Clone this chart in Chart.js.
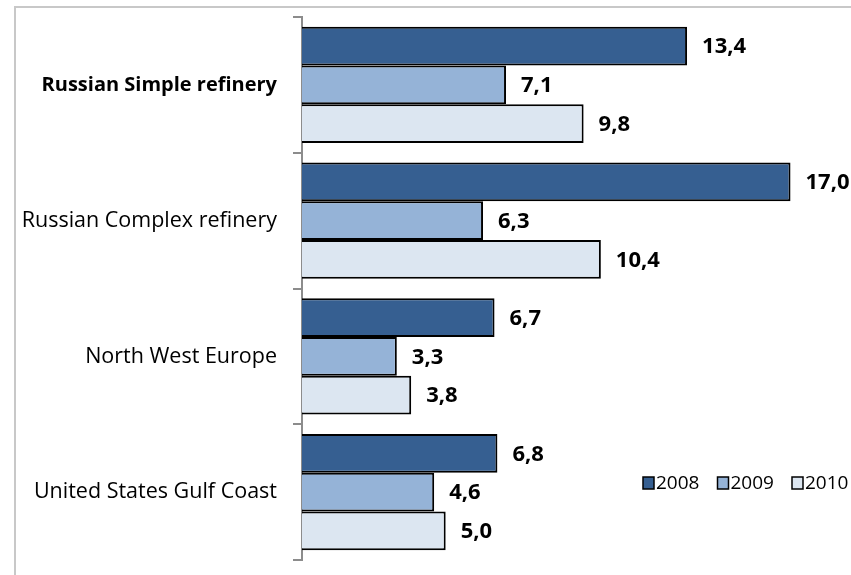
<!DOCTYPE html>
<html>
<head>
<meta charset="utf-8">
<script src="https://cdn.jsdelivr.net/npm/chart.js@4"></script>
<style>
  body { margin: 0; background: #fff; }
  #wrap { position: relative; width: 851px; height: 575px; }
  #marco { position: absolute; left: 14px; top: 6px; right: 0; bottom: 0;
           border-left: 2px solid #c8c8c8; border-top: 2px solid #c8c8c8; }
  canvas { position: absolute; left: 0; top: 0; }
</style>
</head>
<body>
<div id="wrap">
  <div id="marco"></div>
  <canvas id="myChart" width="851" height="575"></canvas>
</div>
<script>
const categorias = ["Russian Simple refinery", "Russian Complex refinery", "North West Europe", "United States Gulf Coast"];
const anios = ["2008", "2009", "2010"];
const valores2008 = [13.4, 17.0, 6.7, 6.8];
const valores2009 = [7.1, 6.3, 3.3, 4.6];
const valores2010 = [9.8, 10.4, 3.8, 5.0];
const colores = ["#365f91", "#95b3d7", "#dce6f1"];
const fuente = "'Open Sans', Lato, sans-serif";

//plugin que escribe el valor al final de cada barra
const etiquetasPlugin = {
  id: "etiquetas",
  afterDatasetsDraw(chart) {
    const ctx = chart.ctx;
    ctx.save();
    ctx.font = "bold 22px " + fuente;
    ctx.fillStyle = "#000";
    ctx.textBaseline = "middle";
    ctx.textAlign = "left";
    chart.data.datasets.forEach((ds, i) => {
      chart.getDatasetMeta(i).data.forEach((bar, j) => {
        ctx.fillText(ds.data[j].toFixed(1).replace(".", ","), bar.x + 15, bar.y + 1);
      });
    });
    ctx.restore();
  }
};

//plugin que dibuja la leyenda abajo a la derecha
const leyendaPlugin = {
  id: "leyenda",
  afterDraw(chart) {
    const ctx = chart.ctx;
    ctx.save();
    ctx.font = "19px " + fuente;
    ctx.textBaseline = "middle";
    let x = 643;
    const y = 483;
    chart.data.datasets.forEach((ds) => {
      ctx.fillStyle = ds.backgroundColor;
      ctx.fillRect(x, y - 6, 11, 12);
      ctx.strokeStyle = "#000";
      ctx.lineWidth = 1.5;
      ctx.strokeRect(x, y - 6, 11, 12);
      ctx.fillStyle = "#000";
      ctx.fillText(ds.label, x + 13, y + 1);
      x += 74.5;
    });
    ctx.restore();
  }
};

const datasets = [valores2008, valores2009, valores2010].map((valores, i) => ({
  label: anios[i],
  data: valores,
  backgroundColor: colores[i],
  borderColor: "#000",
  borderWidth: 2,
  borderSkipped: "left"
}));

const config = {
  type: "bar",
  data: { labels: categorias, datasets },
  options: {
    indexAxis: "y",
    responsive: false,
    animation: false,
    categoryPercentage: 0.855,
    barPercentage: 1,
    layout: { padding: { top: 17, bottom: 15, left: 0, right: 3 } },
    plugins: { legend: { display: false }, tooltip: { enabled: false } },
    scales: {
      x: { display: false, min: 0, max: 19 },
      y: {
        afterFit: (scale) => {
          scale.width = 302;
          scale.paddingTop = 0;
          scale.paddingBottom = 0;
        },
        border: { color: "#8c8c8c", width: 2 },
        grid: { drawOnChartArea: false, tickLength: 9, color: "#8c8c8c", lineWidth: 2 },
        ticks: {
          padding: 16,
          color: "#000",
          font: (c) => ({ family: fuente, size: c.index === 0 ? 20 : 21.5, weight: c.index === 0 ? "bold" : "normal" })
        }
      }
    }
  },
  plugins: [etiquetasPlugin, leyendaPlugin]
};

new Chart(document.getElementById("myChart"), config);
</script>
</body>
</html>
